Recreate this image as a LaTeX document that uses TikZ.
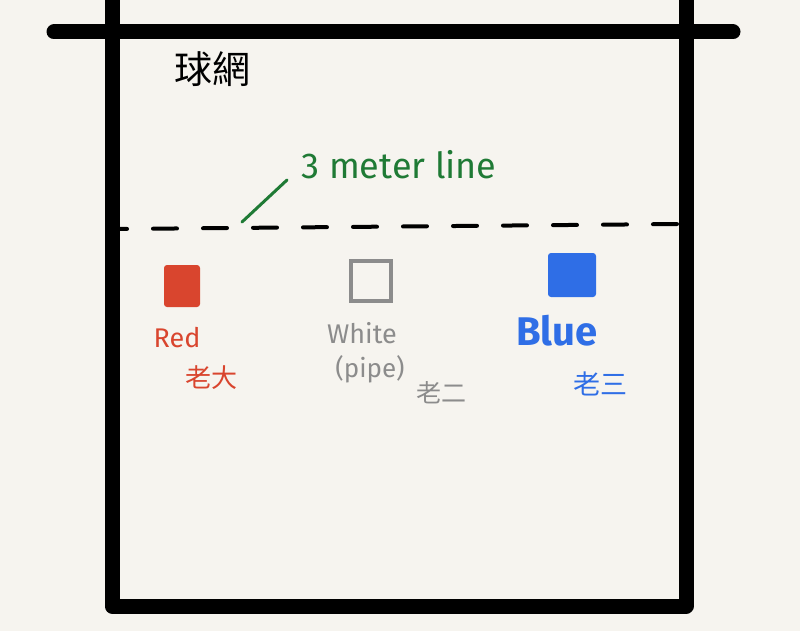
\documentclass[tikz,border=0pt]{standalone}
\usepackage{fontspec}
\setmainfont{Fira Sans}
\newfontfamily\cjk{Noto Sans CJK TC}
\definecolor{paper}{HTML}{F6F4EF}
\definecolor{cred}{HTML}{D9452E}
\definecolor{cgrey}{HTML}{8C8C8C}
\definecolor{cblue}{HTML}{2F6EE6}
\definecolor{cgreen}{HTML}{1F7A35}
\tikzset{
  court/.style={line width=15pt, line cap=round, line join=round, draw=black},
  lbl/.style={inner sep=0pt, anchor=center},
}
\begin{document}
\begin{tikzpicture}[x=1pt,y=-1pt]
\fill[paper] (0,0) rectangle (800,631);
\useasboundingbox (0,0) rectangle (800,631);
% court
\draw[court] (112,-10) -- (112,606) -- (686,606) -- (686,-10);
\draw[court] (54,32) -- (733,32);
% 3 meter dashed line
\draw[line width=4pt, line cap=round, dash pattern=on 24pt off 26pt, dash phase=15pt] (118,229) -- (681,224);
% labels
\node[lbl, font=\cjk\fontsize{38}{42}\selectfont] (net) at (212,69) {球網};
\node[lbl, text=cgreen, font=\fontsize{36}{42}\selectfont] (mline) at (399,165) {3 meter line};
\coordinate (ls) at (242,222);
\coordinate (le) at (287,180);
\draw[cgreen, line width=3pt, line cap=round] (ls) -- (le);
% red
\node[fill=cred, minimum width=36pt, minimum height=42pt, inner sep=0pt, rounded corners=3pt] (rsq) at (182,286) {};
\node[lbl, text=cred, font=\fontsize{27}{30}\selectfont] (rlab) at (177,338) {Red};
\node[lbl, text=cred, font=\cjk\fontsize{26}{30}\selectfont] (rcn) at (211,378) {老大};
% white
\node[draw=cgrey, line width=4pt, minimum width=40pt, minimum height=40pt, inner sep=0pt] (wsq) at (371,281) {};
\node[lbl, text=cgrey, font=\fontsize{27}{30}\selectfont] (wlab) at (362,333) {White};
\node[lbl, text=cgrey, font=\fontsize{26}{30}\selectfont] (wpipe) at (370,369) {(pipe)};
\node[lbl, text=cgrey, font=\cjk\fontsize{25}{28}\selectfont] (wcn) at (441,393) {老二};
% blue
\node[fill=cblue, minimum width=48pt, minimum height=44pt, inner sep=0pt, rounded corners=3pt] (bsq) at (572,275) {};
\node[lbl, text=cblue, font=\bfseries\fontsize{40}{46}\selectfont] (blab) at (557,331) {Blue};
\node[lbl, text=cblue, font=\cjk\fontsize{27}{30}\selectfont] (bcn) at (600,384) {老三};
\end{tikzpicture}
\end{document}
